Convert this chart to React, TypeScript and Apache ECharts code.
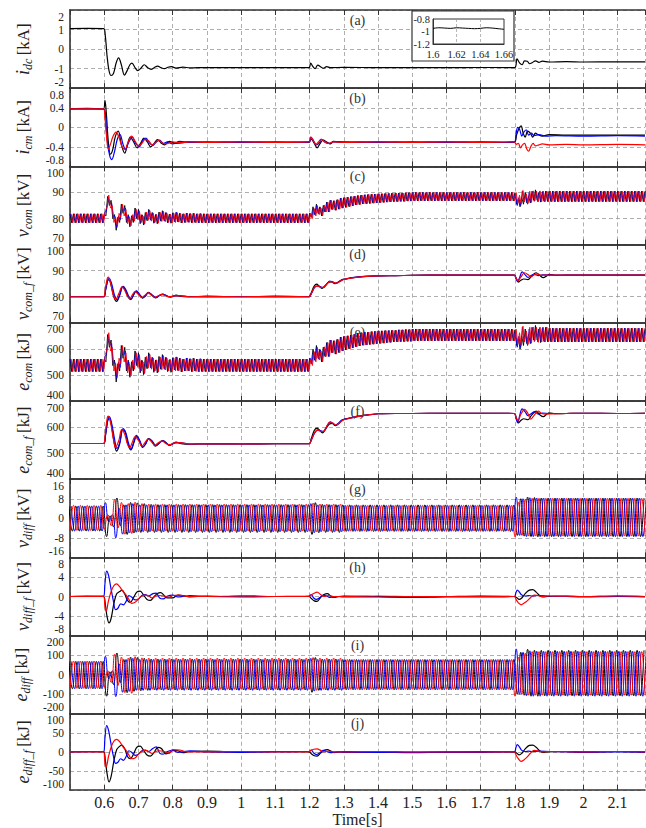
import React, { useEffect, useRef } from "react";
import * as echarts from "echarts";

const FONT = "Liberation Serif, serif";
const BLACK = "#000000";
const BLUE = "#0000ff";
const RED = "#ff0000";

const X_MIN = 0.5;
const X_MAX = 2.18;
const X_INTERVAL = 0.1;

const PANEL_LABELS = ["(a)", "(b)", "(c)", "(d)", "(e)", "(f)", "(g)", "(h)", "(i)", "(j)"];
const Y_RANGES = [
  [-2, 2, 1], [-0.8, 0.8, 0.4], [70, 100, 10], [70, 100, 10], [400, 700, 100],
  [400, 700, 100], [-16, 16, 8], [-8, 8, 4], [-200, 200, 100], [-100, 100, 50],
];
const Y_NAMES = [
  ["i", "dc", "[kA]"], ["i", "cm", "[kA]"], ["v", "com", "[kV]"], ["v", "com_f", "[kV]"],
  ["e", "com", "[kJ]"], ["e", "com_f", "[kJ]"], ["v", "diff", "[kV]"], ["v", "diff_f", "[kV]"],
  ["e", "diff", "[kJ]"], ["e", "diff_f", "[kJ]"],
];

// (a) i_dc
const IDC = [[0.5,1.05],[0.55,1.06],[0.598,1.05],[0.603,0.7],[0.608,-0.3],[0.614,-1.1],[0.62,-1.35],[0.627,-1.25],[0.635,-0.7],[0.642,-0.45],[0.65,-0.8],[0.659,-1.33],[0.667,-1.1],[0.675,-0.8],[0.681,-0.72],[0.69,-0.95],[0.698,-1.1],[0.706,-1.0],[0.717,-0.8],[0.727,-0.95],[0.737,-1.04],[0.746,-0.95],[0.756,-0.87],[0.766,-0.95],[0.776,-1.0],[0.786,-0.93],[0.796,-0.9],[0.81,-0.97],[0.83,-0.92],[0.85,-0.96],[0.9,-0.94],[1.0,-0.95],[1.1,-0.94],[1.198,-0.95],[1.203,-0.72],[1.21,-0.9],[1.216,-1.0],[1.224,-0.82],[1.232,-0.9],[1.24,-0.98],[1.25,-0.9],[1.26,-0.95],[1.3,-0.93],[1.4,-0.95],[1.5,-0.94],[1.6,-0.95],[1.7,-0.94],[1.799,-0.95],[1.806,-0.5],[1.814,-0.72],[1.821,-0.8],[1.828,-0.6],[1.836,-0.62],[1.843,-0.75],[1.85,-0.7],[1.86,-0.6],[1.87,-0.68],[1.88,-0.62],[1.9,-0.66],[1.95,-0.64],[2.0,-0.66],[2.1,-0.65],[2.18,-0.65]];
const IDC_INSET = [[1.6,-0.95],[1.605,-0.94],[1.61,-0.945],[1.615,-0.95],[1.62,-0.94],[1.625,-0.945],[1.63,-0.95],[1.635,-0.955],[1.64,-0.95],[1.645,-0.94],[1.65,-0.945],[1.655,-0.955],[1.66,-0.965]];

// (b) i_cm
const ICM_K = [[0.5,0.38],[0.55,0.39],[0.598,0.38],[0.602,0.55],[0.606,0.3],[0.612,-0.3],[0.618,-0.55],[0.625,-0.45],[0.632,-0.2],[0.641,-0.08],[0.65,-0.35],[0.66,-0.53],[0.668,-0.35],[0.676,-0.2],[0.686,-0.3],[0.696,-0.42],[0.706,-0.33],[0.716,-0.22],[0.726,-0.3],[0.736,-0.4],[0.746,-0.33],[0.756,-0.25],[0.766,-0.32],[0.776,-0.36],[0.79,-0.29],[0.81,-0.33],[0.85,-0.3],[0.9,-0.31],[1.0,-0.3],[1.1,-0.31],[1.198,-0.3],[1.205,-0.24],[1.213,-0.32],[1.222,-0.42],[1.23,-0.34],[1.24,-0.26],[1.25,-0.3],[1.26,-0.34],[1.27,-0.29],[1.3,-0.31],[1.4,-0.3],[1.5,-0.31],[1.6,-0.3],[1.7,-0.31],[1.798,-0.3],[1.805,-0.15],[1.812,-0.02],[1.818,0.03],[1.824,-0.12],[1.83,-0.2],[1.837,-0.08],[1.845,-0.12],[1.852,-0.2],[1.86,-0.12],[1.868,-0.15],[1.88,-0.18],[1.9,-0.15],[1.95,-0.16],[2.0,-0.16],[2.1,-0.16],[2.18,-0.16]];
const ICM_B = [[0.5,0.37],[0.598,0.37],[0.603,0.3],[0.608,-0.2],[0.615,-0.55],[0.622,-0.66],[0.63,-0.5],[0.638,-0.25],[0.646,-0.15],[0.655,-0.35],[0.662,-0.45],[0.672,-0.3],[0.682,-0.2],[0.692,-0.33],[0.702,-0.4],[0.712,-0.28],[0.722,-0.22],[0.732,-0.32],[0.742,-0.37],[0.752,-0.3],[0.762,-0.26],[0.772,-0.33],[0.785,-0.3],[0.8,-0.34],[0.82,-0.29],[0.85,-0.31],[0.9,-0.3],[1.0,-0.31],[1.1,-0.3],[1.198,-0.31],[1.204,-0.2],[1.212,-0.28],[1.22,-0.36],[1.228,-0.32],[1.236,-0.25],[1.246,-0.31],[1.256,-0.33],[1.27,-0.3],[1.3,-0.3],[1.4,-0.31],[1.5,-0.3],[1.6,-0.31],[1.7,-0.3],[1.798,-0.31],[1.803,-0.15],[1.808,0.0],[1.814,-0.05],[1.82,-0.18],[1.826,-0.1],[1.833,-0.05],[1.84,-0.16],[1.848,-0.12],[1.856,-0.17],[1.87,-0.15],[1.89,-0.18],[1.92,-0.17],[2.0,-0.18],[2.1,-0.17],[2.18,-0.18]];
const ICM_R = [[0.5,0.38],[0.598,0.38],[0.602,0.2],[0.607,-0.2],[0.612,-0.45],[0.618,-0.35],[0.625,-0.2],[0.634,-0.1],[0.643,-0.2],[0.652,-0.4],[0.66,-0.45],[0.67,-0.3],[0.68,-0.18],[0.69,-0.28],[0.7,-0.38],[0.71,-0.33],[0.72,-0.24],[0.73,-0.28],[0.74,-0.36],[0.75,-0.31],[0.76,-0.27],[0.77,-0.32],[0.78,-0.34],[0.8,-0.3],[0.82,-0.32],[0.85,-0.3],[0.9,-0.31],[1.0,-0.3],[1.1,-0.31],[1.198,-0.3],[1.203,-0.2],[1.21,-0.26],[1.218,-0.35],[1.226,-0.3],[1.234,-0.24],[1.244,-0.3],[1.254,-0.33],[1.27,-0.3],[1.3,-0.31],[1.4,-0.3],[1.5,-0.31],[1.6,-0.3],[1.7,-0.31],[1.798,-0.3],[1.804,-0.35],[1.81,-0.33],[1.816,-0.42],[1.822,-0.36],[1.828,-0.33],[1.835,-0.45],[1.84,-0.49],[1.846,-0.4],[1.853,-0.33],[1.86,-0.38],[1.87,-0.36],[1.88,-0.34],[1.9,-0.36],[1.95,-0.35],[2.0,-0.36],[2.1,-0.35],[2.18,-0.36]];

// (c) v_com: successive extremes every 5 ms
const COM_STEP = 0.005;
const VCOM_START = [0.5, 0.50167, 0.50333]; // black, blue, red
const VCOM_K = [
  81.8,78.4,81.8,78.4,81.8,78.4,81.8,78.4,81.8,78.4,
  81.8,78.4,81.8,78.4,81.8,78.4,81.8,78.4,81.8,78.4,
  81.8,81.0,88.5,85.0,87.0,80.0,81.5,75.5,80.5,78.5,
  85.5,82.0,85.0,78.5,81.5,76.8,81.0,78.5,84.0,80.0,
  83.5,78.0,81.5,77.5,82.3,79.2,83.5,79.5,82.3,78.2,
  81.5,78.0,82.5,79.0,83.0,79.2,82.3,78.4,81.6,78.2,
  82.2,78.8,82.4,78.7,82.0,78.3,81.8,78.5,82.1,78.6,
  81.9,78.4,82.0,78.5,81.8,78.4,81.9,78.4,81.8,78.4,
  81.8,78.4,81.8,78.4,81.8,78.4,81.8,78.4,81.8,78.4,
  81.8,78.4,81.8,78.4,81.8,78.4,81.8,78.4,81.8,78.4,
  81.8,78.4,81.8,78.4,81.8,78.4,81.8,78.4,81.8,78.4,
  81.8,78.4,81.8,78.4,81.8,78.4,81.8,78.4,81.8,78.4,
  81.8,78.4,81.8,78.4,81.8,78.4,81.8,78.4,81.8,78.4,
  81.8,78.4,81.8,78.4,81.8,78.4,81.8,78.4,81.8,78.4,
  82.0,80.5,84.5,81.5,85.5,82.0,84.5,81.0,85.0,82.5,
  86.3,82.5,87.0,83.5,86.8,83.2,87.2,83.6,87.8,84.0,
  88.0,84.3,88.2,84.6,88.4,84.9,88.6,85.2,88.8,85.4,
  89.0,85.6,89.1,85.7,89.2,85.8,89.3,85.9,89.4,86.0,
  89.5,86.1,89.5,86.2,89.6,86.3,89.6,86.4,89.7,86.5,
  89.7,86.5,89.8,86.6,89.8,86.6,89.9,86.7,89.9,86.7,
  90.0,86.8,90.0,86.8,90.0,86.8,90.0,86.8,90.0,86.8,
  90.0,86.8,90.0,86.8,90.0,86.8,90.0,86.8,90.0,86.8,
  90.0,86.8,90.0,86.8,90.0,86.8,90.0,86.8,90.0,86.8,
  90.0,86.8,90.0,86.8,90.0,86.8,90.0,86.8,90.0,86.8,
  90.0,86.8,90.0,86.8,90.0,86.8,90.0,86.8,90.0,86.8,
  90.0,86.8,90.0,86.8,90.0,86.8,90.0,86.8,90.0,86.8,
  89.8,85.5,87.5,84.5,88.0,85.5,90.0,86.0,88.5,86.0,
  90.5,87.0,91.0,87.0,90.0,86.3,90.2,86.6,90.5,86.6,
  90.5,86.5,90.5,86.5,90.5,86.5,90.5,86.5,90.5,86.5,
  90.5,86.5,90.5,86.5,90.5,86.5,90.5,86.5,90.5,86.5,
  90.5,86.5,90.5,86.5,90.5,86.5,90.5,86.5,90.5,86.5,
  90.5,86.5,90.5,86.5,90.5,86.5,90.5,86.5,90.5,86.5,
  90.5,86.5,90.5,86.5,90.5,86.5,90.5,86.5,90.5,86.5,
  90.5,86.5,90.5,86.5,90.5,86.5,90.5,
];
const VCOM_B = [
  81.8,78.4,81.8,78.4,81.8,78.4,81.8,78.4,81.8,78.4,
  81.8,78.4,81.8,78.4,81.8,78.4,81.8,78.4,81.8,78.4,
  82.5,83.0,88.0,85.5,86.0,80.5,80.8,76.5,81.0,79.5,
  85.0,82.5,84.0,78.8,81.0,77.5,81.2,79.0,83.8,80.0,
  83.0,78.5,81.2,77.8,82.2,79.3,83.2,79.3,82.2,78.5,
  81.6,78.2,82.3,79.0,82.8,79.0,82.2,78.5,81.7,78.3,
  82.2,78.8,82.4,78.7,82.0,78.3,81.8,78.5,82.1,78.6,
  81.9,78.4,82.0,78.5,81.8,78.4,81.9,78.4,81.8,78.4,
  81.8,78.4,81.8,78.4,81.8,78.4,81.8,78.4,81.8,78.4,
  81.8,78.4,81.8,78.4,81.8,78.4,81.8,78.4,81.8,78.4,
  81.8,78.4,81.8,78.4,81.8,78.4,81.8,78.4,81.8,78.4,
  81.8,78.4,81.8,78.4,81.8,78.4,81.8,78.4,81.8,78.4,
  81.8,78.4,81.8,78.4,81.8,78.4,81.8,78.4,81.8,78.4,
  81.8,78.4,81.8,78.4,81.8,78.4,81.8,78.4,81.8,78.4,
  82.0,80.5,84.0,81.3,85.0,81.8,84.2,81.0,85.0,82.5,
  86.3,82.5,87.0,83.5,86.8,83.2,87.2,83.6,87.8,84.0,
  88.0,84.3,88.2,84.6,88.4,84.9,88.6,85.2,88.8,85.4,
  89.0,85.6,89.1,85.7,89.2,85.8,89.3,85.9,89.4,86.0,
  89.5,86.1,89.5,86.2,89.6,86.3,89.6,86.4,89.7,86.5,
  89.7,86.5,89.8,86.6,89.8,86.6,89.9,86.7,89.9,86.7,
  90.0,86.8,90.0,86.8,90.0,86.8,90.0,86.8,90.0,86.8,
  90.0,86.8,90.0,86.8,90.0,86.8,90.0,86.8,90.0,86.8,
  90.0,86.8,90.0,86.8,90.0,86.8,90.0,86.8,90.0,86.8,
  90.0,86.8,90.0,86.8,90.0,86.8,90.0,86.8,90.0,86.8,
  90.0,86.8,90.0,86.8,90.0,86.8,90.0,86.8,90.0,86.8,
  90.0,86.8,90.0,86.8,90.0,86.8,90.0,86.8,90.0,86.8,
  89.5,85.0,88.0,85.0,90.5,86.5,89.0,85.5,90.0,86.2,
  90.3,86.6,90.5,86.5,90.4,86.5,90.5,86.5,90.5,86.5,
  90.5,86.5,90.5,86.5,90.5,86.5,90.5,86.5,90.5,86.5,
  90.5,86.5,90.5,86.5,90.5,86.5,90.5,86.5,90.5,86.5,
  90.5,86.5,90.5,86.5,90.5,86.5,90.5,86.5,90.5,86.5,
  90.5,86.5,90.5,86.5,90.5,86.5,90.5,86.5,90.5,86.5,
  90.5,86.5,90.5,86.5,90.5,86.5,90.5,86.5,90.5,86.5,
  90.5,86.5,90.5,86.5,90.5,86.5,90.5,
];
const VCOM_R = [
  81.8,78.4,81.8,78.4,81.8,78.4,81.8,78.4,81.8,78.4,
  81.8,78.4,81.8,78.4,81.8,78.4,81.8,78.4,81.8,78.4,
  83.0,84.5,89.0,84.0,85.0,78.5,80.5,77.0,82.0,80.5,
  85.5,81.0,83.5,78.0,80.5,77.2,81.5,79.0,83.5,79.5,
  82.5,78.5,81.0,78.0,82.5,79.3,83.0,79.0,82.0,78.5,
  81.5,78.3,82.4,78.9,82.6,78.8,82.0,78.5,81.7,78.3,
  82.0,78.5,82.2,78.6,81.9,78.4,81.8,78.5,82.0,78.5,
  81.8,78.4,81.9,78.4,81.8,78.4,81.8,78.4,81.8,78.4,
  81.8,78.4,81.8,78.4,81.8,78.4,81.8,78.4,81.8,78.4,
  81.8,78.4,81.8,78.4,81.8,78.4,81.8,78.4,81.8,78.4,
  81.8,78.4,81.8,78.4,81.8,78.4,81.8,78.4,81.8,78.4,
  81.8,78.4,81.8,78.4,81.8,78.4,81.8,78.4,81.8,78.4,
  81.8,78.4,81.8,78.4,81.8,78.4,81.8,78.4,81.8,78.4,
  81.8,78.4,81.8,78.4,81.8,78.4,81.8,78.4,81.8,78.4,
  81.8,80.0,83.8,81.0,84.5,81.5,84.0,81.2,85.2,82.5,
  86.3,82.5,87.0,83.5,86.8,83.2,87.2,83.6,87.8,84.0,
  88.0,84.3,88.2,84.6,88.4,84.9,88.6,85.2,88.8,85.4,
  89.0,85.6,89.1,85.7,89.2,85.8,89.3,85.9,89.4,86.0,
  89.5,86.1,89.5,86.2,89.6,86.3,89.6,86.4,89.7,86.5,
  89.7,86.5,89.8,86.6,89.8,86.6,89.9,86.7,89.9,86.7,
  90.0,86.8,90.0,86.8,90.0,86.8,90.0,86.8,90.0,86.8,
  90.0,86.8,90.0,86.8,90.0,86.8,90.0,86.8,90.0,86.8,
  90.0,86.8,90.0,86.8,90.0,86.8,90.0,86.8,90.0,86.8,
  90.0,86.8,90.0,86.8,90.0,86.8,90.0,86.8,90.0,86.8,
  90.0,86.8,90.0,86.8,90.0,86.8,90.0,86.8,90.0,86.8,
  90.0,86.8,90.0,86.8,90.0,86.8,90.0,86.8,90.0,86.8,
  90.0,86.0,89.0,85.5,90.8,86.5,89.5,85.8,90.5,86.2,
  90.6,86.8,90.4,86.4,90.6,86.5,90.4,86.5,90.5,86.5,
  90.5,86.5,90.5,86.5,90.5,86.5,90.5,86.5,90.5,86.5,
  90.5,86.5,90.5,86.5,90.5,86.5,90.5,86.5,90.5,86.5,
  90.5,86.5,90.5,86.5,90.5,86.5,90.5,86.5,90.5,86.5,
  90.5,86.5,90.5,86.5,90.5,86.5,90.5,86.5,90.5,86.5,
  90.5,86.5,90.5,86.5,90.5,86.5,90.5,86.5,90.5,86.5,
  90.5,86.5,90.5,86.5,90.5,86.5,90.5,
];

// (d) v_com_f
const VCOMF_K = [[0.5,80],[0.598,80],[0.604,82.5],[0.61,86.3],[0.614,86.5],[0.62,84.5],[0.628,80],[0.636,78.2],[0.645,80.5],[0.653,83.8],[0.66,83],[0.67,79.8],[0.678,78.9],[0.686,80.8],[0.693,82.2],[0.702,80.8],[0.712,79.5],[0.72,80.3],[0.729,81.7],[0.738,80.8],[0.75,79.6],[0.76,80.4],[0.771,81.0],[0.78,80.5],[0.79,79.9],[0.8,80.1],[0.81,80.6],[0.825,80.1],[0.85,80.0],[0.9,80.1],[1.0,80],[1.1,80.1],[1.198,80],[1.205,81.5],[1.213,84],[1.221,84.8],[1.228,84],[1.236,83.2],[1.245,84.2],[1.256,85.6],[1.264,85.7],[1.274,85],[1.284,85.6],[1.294,86.5],[1.305,86.8],[1.32,87.2],[1.34,87.5],[1.37,87.8],[1.4,88],[1.45,88.1],[1.5,88.2],[1.6,88.3],[1.7,88.3],[1.798,88.3],[1.804,87],[1.81,85.6],[1.817,86.3],[1.826,86.8],[1.838,86.6],[1.848,87.8],[1.862,89.2],[1.872,88.2],[1.883,87.3],[1.893,88.0],[1.9,88.6],[1.92,88.2],[1.95,88.3],[2.0,88.3],[2.1,88.3],[2.18,88.3]];
const VCOMF_B = [[0.5,80],[0.598,80],[0.604,82.8],[0.611,86.6],[0.615,87.0],[0.622,84.8],[0.63,80.6],[0.637,78.8],[0.646,81.0],[0.655,84.0],[0.663,82.8],[0.671,80.3],[0.678,79.2],[0.687,81.0],[0.694,82.3],[0.703,81.0],[0.713,79.6],[0.721,80.4],[0.73,81.6],[0.74,80.7],[0.751,79.7],[0.762,80.5],[0.772,80.9],[0.782,80.4],[0.792,79.9],[0.805,80.3],[0.82,80.4],[0.85,80.0],[0.9,80.1],[1.0,80],[1.1,80.1],[1.198,80],[1.206,81.4],[1.215,83.6],[1.225,84.2],[1.232,83.8],[1.24,83.5],[1.25,84.8],[1.259,86.0],[1.267,85.7],[1.277,85.2],[1.288,85.9],[1.298,86.6],[1.31,86.9],[1.33,87.4],[1.36,87.8],[1.4,88],[1.45,88.1],[1.5,88.2],[1.6,88.3],[1.7,88.3],[1.798,88.3],[1.803,87],[1.808,85.8],[1.814,87.5],[1.821,89.5],[1.83,88.4],[1.838,87.4],[1.848,88.2],[1.858,88.6],[1.868,88.1],[1.88,88.4],[1.9,88.3],[1.95,88.3],[2.0,88.3],[2.1,88.3],[2.18,88.3]];
const VCOMF_R = [[0.5,80],[0.598,80],[0.603,83.0],[0.609,87.0],[0.612,87.5],[0.619,85.0],[0.627,80.4],[0.634,79.2],[0.643,81.3],[0.652,83.8],[0.66,82.5],[0.668,80.2],[0.675,79.4],[0.683,80.9],[0.69,82.0],[0.7,80.9],[0.71,79.7],[0.718,80.5],[0.728,81.5],[0.737,80.7],[0.748,79.8],[0.758,80.4],[0.769,80.9],[0.78,80.3],[0.79,80.0],[0.805,80.3],[0.82,80.3],[0.85,80.0],[0.9,80.1],[1.0,80],[1.1,80.1],[1.198,80],[1.206,81.5],[1.215,83.8],[1.225,84.1],[1.233,83.6],[1.241,83.7],[1.25,84.9],[1.26,85.8],[1.268,85.6],[1.278,85.2],[1.29,86.0],[1.3,86.6],[1.315,87.0],[1.335,87.4],[1.365,87.8],[1.4,88],[1.45,88.1],[1.5,88.2],[1.6,88.3],[1.7,88.3],[1.798,88.3],[1.803,87.2],[1.809,86.2],[1.817,87.5],[1.828,89.2],[1.838,88.5],[1.846,87.6],[1.856,88.4],[1.866,88.8],[1.876,88.2],[1.89,88.3],[1.95,88.3],[2.0,88.3],[2.1,88.3],[2.18,88.3]];

// (e) e_com: successive extremes every 5 ms
const ECOM_K = [
  561,513,561,513,561,513,561,513,561,513,
  561,513,561,513,561,513,561,513,561,513,
  561,550,655,606,634,536,557,473,543,515,
  613,564,606,515,557,491,550,515,592,536,
  585,508,557,501,568,524,585,529,568,510,
  557,508,571,522,578,524,568,513,558,510,
  566,519,569,517,564,512,561,515,565,516,
  562,513,564,515,561,513,562,513,561,513,
  561,513,561,513,561,513,561,513,561,513,
  561,513,561,513,561,513,561,513,561,513,
  561,513,561,513,561,513,561,513,561,513,
  561,513,561,513,561,513,561,513,561,513,
  561,513,561,513,561,513,561,513,561,513,
  561,513,561,513,561,513,561,513,561,513,
  564,543,599,557,613,564,599,550,606,571,
  624,571,634,585,631,580,636,586,645,592,
  648,596,650,600,653,604,656,608,659,611,
  662,614,663,615,664,617,666,618,667,620,
  669,621,669,622,670,624,670,625,671,627,
  671,627,673,628,673,628,674,629,674,629,
  676,631,676,631,676,631,676,631,676,631,
  676,631,676,631,676,631,676,631,676,631,
  676,631,676,631,676,631,676,631,676,631,
  676,631,676,631,676,631,676,631,676,631,
  676,631,676,631,676,631,676,631,676,631,
  676,631,676,631,676,631,676,631,676,631,
  673,613,641,599,648,613,676,620,655,620,
  683,634,690,634,676,624,678,628,683,628,
  679,627,679,627,679,627,679,627,679,627,
  679,627,679,627,679,627,679,627,679,627,
  679,627,679,627,679,627,679,627,679,627,
  679,627,679,627,679,627,679,627,679,627,
  679,627,679,627,679,627,679,627,679,627,
  679,627,679,627,679,627,679,
];
const ECOM_B = [
  561,513,561,513,561,513,561,513,561,513,
  561,513,561,513,561,513,561,513,561,513,
  571,578,648,613,620,543,547,487,550,529,
  606,571,592,519,550,501,552,522,589,536,
  578,515,552,505,566,526,580,526,566,515,
  558,510,568,522,575,522,566,515,559,512,
  566,519,569,517,564,512,561,515,565,516,
  562,513,564,515,561,513,562,513,561,513,
  561,513,561,513,561,513,561,513,561,513,
  561,513,561,513,561,513,561,513,561,513,
  561,513,561,513,561,513,561,513,561,513,
  561,513,561,513,561,513,561,513,561,513,
  561,513,561,513,561,513,561,513,561,513,
  561,513,561,513,561,513,561,513,561,513,
  564,543,592,554,606,561,595,550,606,571,
  624,571,634,585,631,580,636,586,645,592,
  648,596,650,600,653,604,656,608,659,611,
  662,614,663,615,664,617,666,618,667,620,
  669,621,669,622,670,624,670,625,671,627,
  671,627,673,628,673,628,674,629,674,629,
  676,631,676,631,676,631,676,631,676,631,
  676,631,676,631,676,631,676,631,676,631,
  676,631,676,631,676,631,676,631,676,631,
  676,631,676,631,676,631,676,631,676,631,
  676,631,676,631,676,631,676,631,676,631,
  676,631,676,631,676,631,676,631,676,631,
  669,606,648,606,683,627,662,613,676,622,
  680,628,683,627,681,627,683,627,683,627,
  679,627,679,627,679,627,679,627,679,627,
  679,627,679,627,679,627,679,627,679,627,
  679,627,679,627,679,627,679,627,679,627,
  679,627,679,627,679,627,679,627,679,627,
  679,627,679,627,679,627,679,627,679,627,
  679,627,679,627,679,627,679,
];
const ECOM_R = [
  561,513,561,513,561,513,561,513,561,513,
  561,513,561,513,561,513,561,513,561,513,
  578,599,662,592,606,515,543,494,564,543,
  613,550,585,508,543,496,557,522,585,529,
  571,515,550,508,571,526,578,522,564,515,
  557,512,569,520,572,519,564,515,559,512,
  564,515,567,516,562,513,561,515,564,515,
  561,513,562,513,561,513,561,513,561,513,
  561,513,561,513,561,513,561,513,561,513,
  561,513,561,513,561,513,561,513,561,513,
  561,513,561,513,561,513,561,513,561,513,
  561,513,561,513,561,513,561,513,561,513,
  561,513,561,513,561,513,561,513,561,513,
  561,513,561,513,561,513,561,513,561,513,
  561,536,589,550,599,557,592,552,608,571,
  624,571,634,585,631,580,636,586,645,592,
  648,596,650,600,653,604,656,608,659,611,
  662,614,663,615,664,617,666,618,667,620,
  669,621,669,622,670,624,670,625,671,627,
  671,627,673,628,673,628,674,629,674,629,
  676,631,676,631,676,631,676,631,676,631,
  676,631,676,631,676,631,676,631,676,631,
  676,631,676,631,676,631,676,631,676,631,
  676,631,676,631,676,631,676,631,676,631,
  676,631,676,631,676,631,676,631,676,631,
  676,631,676,631,676,631,676,631,676,631,
  676,620,662,613,687,627,669,617,683,622,
  684,631,681,625,684,627,681,627,683,627,
  679,627,679,627,679,627,679,627,679,627,
  679,627,679,627,679,627,679,627,679,627,
  679,627,679,627,679,627,679,627,679,627,
  679,627,679,627,679,627,679,627,679,627,
  679,627,679,627,679,627,679,627,679,627,
  679,627,679,627,679,627,679,
];

// (f) e_com_f
const ECOMF_K = [[0.5,537],[0.598,537],[0.604,570],[0.61,625],[0.615,633],[0.621,608],[0.628,548],[0.636,508],[0.645,535],[0.653,590],[0.661,582],[0.67,532],[0.678,512],[0.687,542],[0.694,566],[0.703,548],[0.712,522],[0.72,533],[0.729,556],[0.738,548],[0.749,527],[0.76,537],[0.77,548],[0.78,541],[0.79,530],[0.8,535],[0.81,542],[0.825,536],[0.85,534],[0.9,536],[1.0,535],[1.1,536],[1.198,536],[1.205,556],[1.214,588],[1.222,596],[1.229,588],[1.238,578],[1.247,592],[1.258,612],[1.266,614],[1.276,605],[1.286,614],[1.296,627],[1.31,633],[1.33,638],[1.357,645],[1.38,648],[1.4,651],[1.45,652],[1.5,652],[1.6,653],[1.7,653],[1.798,652],[1.804,635],[1.81,616],[1.817,625],[1.826,632],[1.838,628],[1.848,645],[1.862,661],[1.872,648],[1.883,640],[1.893,650],[1.9,655],[1.92,651],[1.95,652],[2.0,653],[2.1,652],[2.18,653]];
const ECOMF_B = [[0.5,537],[0.598,537],[0.604,574],[0.611,630],[0.615,640],[0.622,612],[0.63,556],[0.637,518],[0.646,542],[0.655,594],[0.663,578],[0.671,538],[0.678,515],[0.687,545],[0.694,568],[0.703,550],[0.713,524],[0.721,535],[0.73,555],[0.74,547],[0.751,529],[0.762,540],[0.772,547],[0.782,538],[0.792,531],[0.805,539],[0.82,540],[0.85,535],[0.9,536],[1.0,535],[1.1,536],[1.198,536],[1.206,552],[1.215,578],[1.225,590],[1.232,586],[1.24,583],[1.25,602],[1.26,619],[1.268,614],[1.274,606],[1.285,616],[1.294,627],[1.31,632],[1.33,638],[1.36,645],[1.4,651],[1.45,652],[1.5,652],[1.6,653],[1.7,653],[1.798,652],[1.803,634],[1.808,617],[1.814,645],[1.821,670],[1.83,658],[1.838,644],[1.848,652],[1.858,659],[1.868,650],[1.88,654],[1.9,652],[1.95,652],[2.0,653],[2.1,652],[2.18,653]];
const ECOMF_R = [[0.5,537],[0.598,537],[0.603,578],[0.609,636],[0.612,642],[0.619,614],[0.627,553],[0.633,522],[0.643,550],[0.651,590],[0.66,572],[0.667,538],[0.674,520],[0.683,545],[0.69,563],[0.7,549],[0.71,526],[0.718,538],[0.728,554],[0.737,545],[0.748,530],[0.758,540],[0.769,546],[0.78,537],[0.79,532],[0.805,539],[0.82,540],[0.85,535],[0.9,536],[1.0,535],[1.1,536],[1.198,536],[1.206,553],[1.215,580],[1.225,588],[1.233,583],[1.241,584],[1.25,603],[1.26,620],[1.268,615],[1.278,608],[1.29,619],[1.3,628],[1.315,633],[1.335,639],[1.365,646],[1.4,651],[1.45,652],[1.5,652],[1.6,653],[1.7,653],[1.798,652],[1.803,638],[1.809,625],[1.817,648],[1.828,668],[1.838,652],[1.846,630],[1.856,645],[1.868,661],[1.878,652],[1.89,650],[1.95,652],[2.0,653],[2.1,652],[2.18,653]];

// (g) v_diff and (i) e_diff: successive extremes every 10 ms
const DIFF_STEP = 0.01;
const DIFF_START = [0.497, 0.5037, 0.5003]; // black, blue, red
const VDIFF_K = [
  5.0,-5.2,5.0,-5.2,5.0,-5.2,5.0,-5.2,5.0,-5.2,
  5.0,-7.5,1.0,-3.5,8.3,-3.0,5.5,-6.6,6.5,-6.0,
  6.3,-5.8,6.0,-5.8,5.7,-5.8,5.6,-5.8,5.6,-5.8,
  5.6,-5.8,5.6,-5.8,5.6,-5.8,5.6,-5.8,5.6,-5.8,
  5.6,-5.8,5.6,-5.8,5.6,-5.8,5.6,-5.8,5.6,-5.8,
  5.6,-5.8,5.6,-5.8,5.6,-5.8,5.6,-5.8,5.6,-5.8,
  5.6,-5.8,5.6,-5.8,5.6,-5.8,5.6,-5.8,5.6,-5.8,
  5.6,-6.6,6.4,-5.9,5.7,-5.8,5.6,-5.8,5.6,-5.8,
  5.5,-5.4,5.5,-5.4,5.5,-5.4,5.5,-5.4,5.5,-5.4,
  5.5,-5.4,5.5,-5.4,5.5,-5.4,5.5,-5.4,5.5,-5.4,
  5.5,-5.4,5.5,-5.4,5.5,-5.4,5.5,-5.4,5.5,-5.4,
  5.5,-5.4,5.5,-5.4,5.5,-5.4,5.5,-5.4,5.5,-5.4,
  5.5,-5.4,5.5,-5.4,5.5,-5.4,5.5,-5.4,5.5,-5.4,
  5.4,-7.0,8.0,-7.3,8.7,-7.5,8.5,-7.6,8.3,-7.5,
  8.3,-7.5,8.3,-7.5,8.3,-7.5,8.3,-7.5,8.3,-7.5,
  8.3,-7.5,8.3,-7.5,8.3,-7.5,8.3,-7.5,8.3,-7.5,
  8.3,-7.5,8.3,-7.5,8.3,-7.5,8.3,-7.5,8.3,
];
const VDIFF_B = [
  5.0,-5.2,5.0,-5.2,5.0,-5.2,5.0,-5.2,5.0,-5.2,
  6.4,-1.5,1.5,-8.0,4.0,-6.5,5.5,-6.0,6.0,-5.7,
  5.5,-5.5,5.5,-5.5,5.5,-5.5,5.5,-5.5,5.5,-5.5,
  5.5,-5.5,5.5,-5.5,5.5,-5.5,5.5,-5.5,5.5,-5.5,
  5.5,-5.5,5.5,-5.5,5.5,-5.5,5.5,-5.5,5.5,-5.5,
  5.5,-5.5,5.5,-5.5,5.5,-5.5,5.5,-5.5,5.5,-5.5,
  5.5,-5.5,5.5,-5.5,5.5,-5.5,5.5,-5.5,5.5,-5.5,
  6.0,-5.9,5.5,-5.5,5.5,-5.5,5.5,-5.5,5.5,-5.5,
  5.3,-5.3,5.3,-5.3,5.3,-5.3,5.3,-5.3,5.3,-5.3,
  5.3,-5.3,5.3,-5.3,5.3,-5.3,5.3,-5.3,5.3,-5.3,
  5.3,-5.3,5.3,-5.3,5.3,-5.3,5.3,-5.3,5.3,-5.3,
  5.3,-5.3,5.3,-5.3,5.3,-5.3,5.3,-5.3,5.3,-5.3,
  5.3,-5.3,5.3,-5.3,5.3,-5.3,5.3,-5.3,5.3,-5.3,
  8.7,-7.0,8.0,-7.5,8.4,-7.5,8.3,-7.5,8.3,-7.5,
  8.3,-7.5,8.3,-7.5,8.3,-7.5,8.3,-7.5,8.3,-7.5,
  8.3,-7.5,8.3,-7.5,8.3,-7.5,8.3,-7.5,8.3,-7.5,
  8.3,-7.5,8.3,-7.5,8.3,-7.5,8.3,-7.5,8.3,
];
const VDIFF_R = [
  -5.0,5.3,-5.0,5.3,-5.0,5.3,-5.0,5.3,-5.0,5.3,
  -4.5,1.5,-3.0,7.7,-4.0,6.5,-6.5,6.0,-6.2,6.6,
  -5.5,6.0,-5.2,5.8,-5.2,5.8,-5.2,5.8,-5.2,5.8,
  -5.2,5.8,-5.2,5.8,-5.2,5.8,-5.2,5.8,-5.2,5.8,
  -5.2,5.8,-5.2,5.8,-5.2,5.8,-5.2,5.8,-5.2,5.8,
  -5.2,5.8,-5.2,5.8,-5.2,5.8,-5.2,5.8,-5.2,5.8,
  -5.2,5.8,-5.2,5.8,-5.2,5.8,-5.2,5.8,-5.2,5.8,
  -5.2,6.2,-5.6,5.8,-5.2,5.8,-5.2,5.8,-5.2,5.8,
  -5.2,5.3,-5.2,5.3,-5.2,5.3,-5.2,5.3,-5.2,5.3,
  -5.2,5.3,-5.2,5.3,-5.2,5.3,-5.2,5.3,-5.2,5.3,
  -5.2,5.3,-5.2,5.3,-5.2,5.3,-5.2,5.3,-5.2,5.3,
  -5.2,5.3,-5.2,5.3,-5.2,5.3,-5.2,5.3,-5.2,5.3,
  -5.2,5.3,-5.2,5.3,-5.2,5.3,-5.2,5.3,-5.2,5.3,
  -7.6,6.5,-7.0,7.8,-7.3,8.2,-7.3,8.2,-7.3,8.2,
  -7.3,8.2,-7.3,8.2,-7.3,8.2,-7.3,8.2,-7.3,8.2,
  -7.3,8.2,-7.3,8.2,-7.3,8.2,-7.3,8.2,-7.3,8.2,
  -7.3,8.2,-7.3,8.2,-7.3,8.2,-7.3,8.2,-7.3,
];
const EDIFF_K = [
  68,-72,68,-72,68,-72,68,-72,68,-72,
  68,-110,15,-50,111,-40,78,-92,90,-85,
  88,-82,84,-80,80,-78,80,-78,80,-78,
  80,-78,80,-78,80,-78,80,-78,80,-78,
  80,-78,80,-78,80,-78,80,-78,80,-78,
  80,-78,80,-78,80,-78,80,-78,80,-78,
  80,-78,80,-78,80,-78,80,-78,80,-78,
  80,-90,88,-80,80,-78,80,-78,80,-78,
  78,-77,78,-77,78,-77,78,-77,78,-77,
  78,-77,78,-77,78,-77,78,-77,78,-77,
  78,-77,78,-77,78,-77,78,-77,78,-77,
  78,-77,78,-77,78,-77,78,-77,78,-77,
  78,-77,78,-77,78,-77,78,-77,78,-77,
  78,-100,115,-105,130,-110,125,-110,125,-108,
  125,-108,125,-108,125,-108,125,-108,125,-108,
  125,-108,125,-108,125,-108,125,-108,125,-108,
  125,-108,125,-108,125,-108,125,-108,125,
];
const EDIFF_B = [
  68,-72,68,-72,68,-72,68,-72,68,-72,
  94,-20,20,-112,55,-90,78,-85,84,-80,
  78,-80,78,-80,78,-80,78,-80,78,-80,
  78,-80,78,-80,78,-80,78,-80,78,-80,
  78,-80,78,-80,78,-80,78,-80,78,-80,
  78,-80,78,-80,78,-80,78,-80,78,-80,
  78,-80,78,-80,78,-80,78,-80,78,-80,
  84,-84,78,-80,78,-80,78,-80,78,-80,
  77,-77,77,-77,77,-77,77,-77,77,-77,
  77,-77,77,-77,77,-77,77,-77,77,-77,
  77,-77,77,-77,77,-77,77,-77,77,-77,
  77,-77,77,-77,77,-77,77,-77,77,-77,
  77,-77,77,-77,77,-77,77,-77,77,-77,
  132,-100,115,-108,122,-110,120,-110,120,-110,
  120,-110,120,-110,120,-110,120,-110,120,-110,
  120,-110,120,-110,120,-110,120,-110,120,-110,
  120,-110,120,-110,120,-110,120,-110,120,
];
const EDIFF_R = [
  -70,70,-70,70,-70,70,-70,70,-70,70,
  -63,20,-40,105,-55,90,-92,85,-95,92,
  -80,86,-75,85,-75,85,-75,85,-75,85,
  -75,85,-75,85,-75,85,-75,85,-75,85,
  -75,85,-75,85,-75,85,-75,85,-75,85,
  -75,85,-75,85,-75,85,-75,85,-75,85,
  -75,85,-75,85,-75,85,-75,85,-75,85,
  -75,88,-80,85,-75,85,-75,85,-75,85,
  -75,78,-75,78,-75,78,-75,78,-75,78,
  -75,78,-75,78,-75,78,-75,78,-75,78,
  -75,78,-75,78,-75,78,-75,78,-75,78,
  -75,78,-75,78,-75,78,-75,78,-75,78,
  -75,78,-75,78,-75,78,-75,78,-75,78,
  -110,90,-100,110,-105,118,-105,118,-105,118,
  -105,118,-105,118,-105,118,-105,118,-105,118,
  -105,118,-105,118,-105,118,-105,118,-105,118,
  -105,118,-105,118,-105,118,-105,118,-105,
];

// (h) v_diff_f
const VDIFFF_K = [[0.5,0],[0.55,0.1],[0.598,0],[0.603,-1.5],[0.608,-4],[0.614,-5.4],[0.62,-4.5],[0.628,-1.5],[0.636,0.5],[0.645,1.0],[0.652,1.3],[0.66,0.5],[0.668,-0.8],[0.676,-1.2],[0.686,-0.2],[0.695,0.9],[0.705,1.1],[0.715,0.3],[0.725,-0.6],[0.735,-0.8],[0.745,-0.1],[0.755,0.6],[0.765,0.8],[0.775,0.2],[0.785,-0.3],[0.8,-0.3],[0.815,0.3],[0.83,0.2],[0.85,-0.1],[0.9,0.1],[0.95,0],[1.0,0.1],[1.1,0],[1.198,0],[1.205,-0.4],[1.214,-0.9],[1.222,-1.0],[1.232,-0.2],[1.242,0.4],[1.252,0.6],[1.262,0.1],[1.272,-0.2],[1.285,0],[1.3,0.1],[1.4,0],[1.5,-0.1],[1.6,0],[1.7,0.1],[1.798,0],[1.805,-0.2],[1.812,-0.6],[1.82,-0.3],[1.83,0.6],[1.842,1.3],[1.852,1.4],[1.862,0.9],[1.872,0.2],[1.882,-0.1],[1.895,0],[1.95,0.1],[2.0,0],[2.1,0.1],[2.18,0]];
const VDIFFF_B = [[0.5,0],[0.598,0.1],[0.602,2.5],[0.607,5.2],[0.613,4.2],[0.62,1.5],[0.627,-1.0],[0.633,-2.7],[0.64,-2.4],[0.648,-1.5],[0.656,-1.7],[0.664,-1.0],[0.672,0.2],[0.68,-0.1],[0.69,-0.7],[0.7,-0.5],[0.71,0.2],[0.72,0.4],[0.73,0.1],[0.742,0.6],[0.752,0.7],[0.762,-0.3],[0.772,-0.5],[0.785,0.1],[0.8,0.3],[0.815,-0.1],[0.83,0],[0.85,0.2],[0.9,0],[1.0,-0.1],[1.1,0],[1.198,0.1],[1.205,0.4],[1.212,-0.3],[1.22,-0.6],[1.23,-0.2],[1.24,0.3],[1.25,0.1],[1.26,-0.2],[1.28,0],[1.3,-0.1],[1.4,-0.1],[1.5,-0.2],[1.6,-0.1],[1.7,-0.1],[1.798,0],[1.803,0.8],[1.807,1.3],[1.813,0.9],[1.82,0.3],[1.83,0.1],[1.84,0.2],[1.85,0.1],[1.87,0.2],[1.9,0.1],[1.95,0],[2.0,-0.1],[2.1,0],[2.18,-0.1]];
const VDIFFF_R = [[0.5,0],[0.598,0],[0.602,-2.0],[0.606,-3.0],[0.612,-1.0],[0.62,1.0],[0.628,2.2],[0.636,2.6],[0.645,2.0],[0.655,1.0],[0.663,0.4],[0.672,-0.6],[0.68,-1.4],[0.69,-1.2],[0.7,-0.5],[0.71,0.1],[0.72,0.3],[0.73,0.1],[0.74,-0.3],[0.75,0.1],[0.76,0.2],[0.775,0.1],[0.79,-0.2],[0.8,0.2],[0.82,0.3],[0.84,0],[0.9,0],[1.0,0.1],[1.1,0],[1.198,0],[1.204,0.3],[1.212,0.6],[1.222,0.9],[1.232,0.4],[1.242,0],[1.255,0.2],[1.27,0],[1.3,0],[1.4,0.1],[1.5,0],[1.6,0],[1.7,0],[1.798,0],[1.804,-0.7],[1.81,-1.3],[1.818,-1.7],[1.826,-1.4],[1.836,-0.9],[1.846,-0.2],[1.856,0.3],[1.866,0.2],[1.88,0],[1.9,0.1],[2.0,0],[2.1,0.1],[2.18,0]];

// (j) e_diff_f
const EDIFFF_K = [[0.5,0],[0.55,1],[0.598,0],[0.603,-20],[0.608,-55],[0.614,-79],[0.62,-65],[0.628,-25],[0.636,5],[0.644,14],[0.651,18],[0.66,8],[0.668,-12],[0.676,-18],[0.686,-5],[0.695,12],[0.705,15],[0.715,4],[0.725,-8],[0.735,-11],[0.745,-2],[0.757,12],[0.767,9],[0.78,-5],[0.79,-3],[0.8,4],[0.815,3],[0.83,-2],[0.85,1],[0.9,2],[1.0,0],[1.1,1],[1.198,0],[1.205,-5],[1.214,-10],[1.222,-11],[1.232,-3],[1.242,4],[1.252,6],[1.262,2],[1.272,-2],[1.285,0],[1.3,1],[1.4,0],[1.5,-1],[1.6,0],[1.7,1],[1.798,0],[1.805,-3],[1.812,-8],[1.82,-4],[1.83,8],[1.842,17],[1.852,18],[1.862,12],[1.872,3],[1.882,-1],[1.895,0],[1.95,1],[2.0,0],[2.1,1],[2.18,0]];
const EDIFFF_B = [[0.5,0],[0.598,1],[0.602,35],[0.607,69],[0.613,55],[0.62,20],[0.627,-12],[0.633,-30],[0.64,-27],[0.648,-18],[0.656,-22],[0.664,-12],[0.672,3],[0.68,-1],[0.69,-9],[0.7,-6],[0.71,3],[0.72,5],[0.73,1],[0.742,9],[0.752,13],[0.762,-3],[0.772,-6],[0.785,1],[0.8,4],[0.815,-1],[0.83,0],[0.85,3],[0.9,0],[1.0,-1],[1.1,0],[1.198,1],[1.205,5],[1.212,-3],[1.22,-7],[1.23,-2],[1.24,4],[1.25,1],[1.26,-2],[1.28,0],[1.3,-1],[1.4,-1],[1.5,-2],[1.6,-1],[1.7,-1],[1.798,0],[1.803,12],[1.807,19],[1.813,13],[1.82,4],[1.83,1],[1.84,2],[1.85,1],[1.87,2],[1.9,1],[1.95,0],[2.0,-1],[2.1,0],[2.18,-1]];
const EDIFFF_R = [[0.5,0],[0.598,0],[0.602,-30],[0.606,-39],[0.612,-14],[0.62,12],[0.628,28],[0.636,33],[0.645,27],[0.655,13],[0.663,5],[0.672,-8],[0.68,-18],[0.69,-16],[0.7,-6],[0.71,1],[0.72,4],[0.73,1],[0.74,-4],[0.75,1],[0.76,3],[0.775,1],[0.79,-3],[0.8,6],[0.82,5],[0.84,0],[0.9,0],[1.0,1],[1.1,0],[1.198,0],[1.204,4],[1.212,7],[1.222,8],[1.232,4],[1.242,0],[1.255,2],[1.27,0],[1.3,0],[1.4,1],[1.5,0],[1.6,0],[1.7,0],[1.798,0],[1.804,-10],[1.81,-18],[1.818,-25],[1.826,-21],[1.836,-13],[1.846,-3],[1.856,4],[1.866,3],[1.88,0],[1.9,1],[2.0,0],[2.1,1],[2.18,0]];

// Inset axis
const INSET_X = [1.6, 1.66, 0.02];
const INSET_Y = [-1.2, -0.8, 0.2];

// Layout
const PLOT_LEFT = 70;
const PLOT_RIGHT = 1;
const PANEL_TOP = 10;
const PANEL_H = 78.2;

function sampled(t0: number, dt: number, values: number[]) {
  return values.map((v, i) => [Number((t0 + i * dt).toFixed(5)), v]);
}

type S = { color: string; data: number[][]; width: number; smooth: number | boolean };

function buildPanels(): S[][] {
  const tr = (color: string, data: number[][]): S => ({ color, data, width: 1.2, smooth: 0.35 });
  const com = (color: string, idx: number, vals: number[]): S => ({ color, data: sampled(VCOM_START[idx], COM_STEP, vals), width: 0.9, smooth: false });
  const diff = (color: string, idx: number, vals: number[]): S => ({ color, data: sampled(DIFF_START[idx], DIFF_STEP, vals), width: 1.0, smooth: 0.5 });
  return [
    [tr(BLACK, IDC)],
    [tr(BLACK, ICM_K), tr(BLUE, ICM_B), tr(RED, ICM_R)],
    [com(BLACK, 0, VCOM_K), com(BLUE, 1, VCOM_B), com(RED, 2, VCOM_R)],
    [tr(BLACK, VCOMF_K), tr(BLUE, VCOMF_B), tr(RED, VCOMF_R)],
    [com(BLACK, 0, ECOM_K), com(BLUE, 1, ECOM_B), com(RED, 2, ECOM_R)],
    [tr(BLACK, ECOMF_K), tr(BLUE, ECOMF_B), tr(RED, ECOMF_R)],
    [diff(BLACK, 0, VDIFF_K), diff(BLUE, 1, VDIFF_B), diff(RED, 2, VDIFF_R)],
    [tr(BLACK, VDIFFF_K), tr(BLUE, VDIFFF_B), tr(RED, VDIFFF_R)],
    [diff(BLACK, 0, EDIFF_K), diff(BLUE, 1, EDIFF_B), diff(RED, 2, EDIFF_R)],
    [tr(BLACK, EDIFFF_K), tr(BLUE, EDIFFF_B), tr(RED, EDIFFF_R)],
  ];
}

function buildOption() {
  const panels = buildPanels();
  const n = panels.length;
  const axisColor = "#333";
  const dash = { type: [4, 3] as any, color: "#9a9a9a", width: 0.8 };
  const grid: any[] = [];
  const xAxis: any[] = [];
  const yAxis: any[] = [];
  const series: any[] = [];
  const graphic: any[] = [];
  const labelBase = { fontFamily: FONT, fontSize: 11.5, lineHeight: 13, color: "#222", margin: 6 };

  for (let i = 0; i < n; i++) {
    const top = PANEL_TOP + i * PANEL_H;
    grid.push({ left: PLOT_LEFT, right: PLOT_RIGHT, top, height: PANEL_H });
    const last = i === n - 1;
    xAxis.push({
      type: "value", gridIndex: i, min: X_MIN, max: X_MAX, interval: X_INTERVAL, position: "bottom",
      axisLine: { show: true, onZero: false, lineStyle: { color: axisColor, width: 1.6 } },
      axisTick: { show: true, inside: true, length: 5, lineStyle: { color: axisColor, width: 1 } },
      axisLabel: { show: last, showMinLabel: false, showMaxLabel: false, fontFamily: FONT, fontSize: 16, color: "#222", margin: 4 },
      splitLine: { show: true, lineStyle: dash },
      name: last ? "Time[s]" : "", nameLocation: "middle", nameGap: 21,
      nameTextStyle: { fontFamily: FONT, fontSize: 16, color: "#222" },
    });
    xAxis.push({
      type: "value", gridIndex: i, min: X_MIN, max: X_MAX, interval: X_INTERVAL, position: "top",
      axisLine: { show: true, onZero: false, lineStyle: { color: axisColor, width: 1.6 } },
      axisTick: { show: true, inside: true, length: 5, lineStyle: { color: axisColor, width: 1 } },
      axisLabel: { show: false }, splitLine: { show: false },
    });
    const [ymin, ymax, yint] = Y_RANGES[i];
    const [v, s, u] = Y_NAMES[i];
    // main y axis: interior tick labels, grid lines, name
    yAxis.push({
      type: "value", gridIndex: i, min: ymin, max: ymax, interval: yint, position: "left",
      axisLine: { show: true, onZero: false, lineStyle: { color: axisColor, width: 1.6 } },
      axisTick: { show: false },
      axisLabel: { ...labelBase, showMinLabel: false, showMaxLabel: false },
      splitLine: { show: true, lineStyle: dash },
      name: `{v|${v}}{s|${s}} {u|${u}}`, nameLocation: "middle", nameRotate: 90, nameGap: 36,
      nameTextStyle: {
        color: "#222",
        rich: {
          v: { fontFamily: FONT, fontSize: 18, fontStyle: "italic", lineHeight: 22 },
          s: { fontFamily: FONT, fontSize: 12, fontStyle: "italic", lineHeight: 12, verticalAlign: "bottom" },
          u: { fontFamily: FONT, fontSize: 17, lineHeight: 22 },
        },
      },
    });
    // companion y axis: only the end labels, kept inside the panel
    yAxis.push({
      type: "value", gridIndex: i, min: ymin, max: ymax, interval: yint, position: "left",
      axisLine: { show: false, onZero: false }, axisTick: { show: false }, splitLine: { show: false },
      axisLabel: {
        ...labelBase, showMinLabel: true, showMaxLabel: true,
        verticalAlignMinLabel: "bottom", verticalAlignMaxLabel: "top",
        formatter: (val: number) => (Math.abs(val - ymin) < 1e-9 || Math.abs(val - ymax) < 1e-9 ? String(val) : ""),
      },
    });
    graphic.push({
      type: "text", x: PLOT_LEFT + (646 - PLOT_LEFT - PLOT_RIGHT) / 2, y: top + 3, z: 1, silent: true,
      style: { text: PANEL_LABELS[i], font: `14px ${FONT}`, fill: "#333", textAlign: "center", textVerticalAlign: "top", align: "center", verticalAlign: "top" },
    });
    for (const sr of panels[i]) {
      series.push({
        type: "line", xAxisIndex: 2 * i, yAxisIndex: 2 * i, data: sr.data, showSymbol: false, symbol: "none",
        smooth: sr.smooth, silent: true, lineStyle: { color: sr.color, width: sr.width }, itemStyle: { color: sr.color },
      });
    }
  }

  // inset in panel (a)
  graphic.push({ type: "rect", z: 50, silent: true, shape: { x: 412, y: 11, width: 102, height: 50 }, style: { fill: "#ffffff", stroke: "#333", lineWidth: 1.2 } });
  grid.push({ left: 433, top: 19, width: 71, height: 25, show: true, borderColor: "#333", borderWidth: 1, backgroundColor: "transparent", z: 55 });
  xAxis.push({
    type: "value", gridIndex: n, min: INSET_X[0], max: INSET_X[1], interval: INSET_X[2], z: 60,
    axisLine: { show: true, onZero: false, lineStyle: { color: axisColor, width: 1 } },
    axisTick: { show: false },
    axisLabel: { fontFamily: FONT, fontSize: 10.5, lineHeight: 9, color: "#222", margin: 6, showMinLabel: true, showMaxLabel: true },
    splitLine: { show: true, lineStyle: { type: [3, 2], color: "#9a9a9a", width: 0.7 } },
  });
  yAxis.push({
    type: "value", gridIndex: n, min: INSET_Y[0], max: INSET_Y[1], interval: INSET_Y[2], z: 60,
    axisLine: { show: true, onZero: false, lineStyle: { color: axisColor, width: 1 } },
    axisTick: { show: false },
    axisLabel: { fontFamily: FONT, fontSize: 10.5, lineHeight: 9, color: "#222", margin: 3, showMinLabel: true, showMaxLabel: true },
    splitLine: { show: false },
  });
  series.push({
    type: "line", xAxisIndex: 2 * n, yAxisIndex: 2 * n, data: IDC_INSET, showSymbol: false, symbol: "none", z: 60,
    smooth: 0.3, silent: true, lineStyle: { color: BLACK, width: 1 },
  });

  return { animation: false, backgroundColor: "#ffffff", grid, xAxis, yAxis, series, graphic };
}

export default function App() {
  const ref = useRef<HTMLDivElement>(null);
  useEffect(() => {
    if (!ref.current) return;
    const chart = echarts.init(ref.current, undefined, { renderer: "svg" });
    chart.setOption(buildOption() as any);
    return () => chart.dispose();
  }, []);
  return <div ref={ref} style={{ position: "absolute", left: 0, top: 0, width: 646, height: 828, background: "#fff" }} />;
}
